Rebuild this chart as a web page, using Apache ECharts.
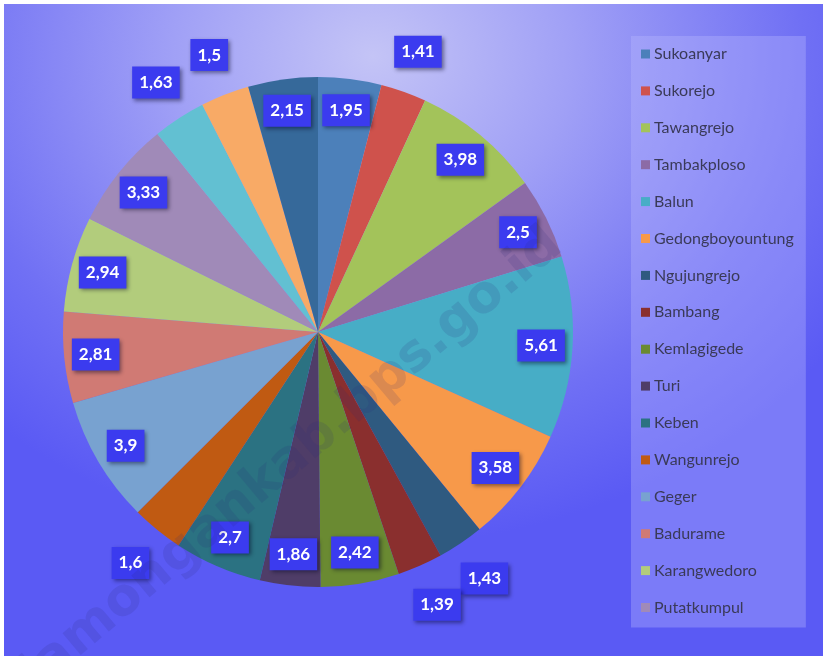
<!DOCTYPE html>
<html>
<head>
<meta charset="utf-8">
<script src="https://cdn.jsdelivr.net/npm/echarts@6/dist/echarts.min.js"></script>
<style>
  html, body { margin: 0; padding: 0; width: 823px; height: 656px; overflow: hidden; background: #fff; }
  #bg {
    position: absolute; left: 4px; top: 4px; width: 819px; height: 652px;
    background:
      radial-gradient(ellipse 70% 75% at 45% 8%, rgba(196,196,246,1) 0%, rgba(160,160,246,1) 35%, rgba(112,112,244,1) 75%, rgba(90,90,244,1) 100%);
  }
  #chart { position: absolute; left: 0; top: 0; width: 823px; height: 656px; }
</style>
</head>
<body>
<div id="bg"></div>
<div id="chart"></div>
<script>
const categories = ['Sukoanyar', 'Sukorejo', 'Tawangrejo', 'Tambakploso', 'Balun', 'Gedongboyountung',
  'Ngujungrejo', 'Bambang', 'Kemlagigede', 'Turi', 'Keben', 'Wangunrejo', 'Geger', 'Badurame',
  'Karangwedoro', 'Putatkumpul', 'Kemlagilor', 'Pomahanjanggan', 'Putatbangah'];
const values = [1.95, 1.41, 3.98, 2.5, 5.61, 3.58, 1.43, 1.39, 2.42, 1.86, 2.7, 1.6, 3.9, 2.81, 2.94, 3.33, 1.63, 1.5, 2.15];
const legendNames = categories.slice(0, 16);

const palette = ['#4c80ba', '#cf524c', '#a3c35a', '#8c6ba6', '#47adc6', '#f7994a',
  '#2f5a80', '#8a2f2e', '#6a8a32', '#4f3d68', '#2b7282', '#c05a12',
  '#78a2d0', '#d07a74', '#b2cc7c', '#a08ab8', '#62c0d2', '#f8aa66', '#36699a'];

const chart = echarts.init(document.getElementById('chart'), null, { renderer: 'canvas' });

const center = [318, 332];
const R = 255;
const fmt = v => String(v).replace('.', ',');
const smallLimit = 1.7;

const labelStyle = {
  position: 'inside',
  formatter: p => fmt(p.value),
  color: '#ffffff',
  fontFamily: 'Lato, "Open Sans", sans-serif',
  fontWeight: 'bold',
  fontSize: 17,
  backgroundColor: '#3b3bef',
  padding: [8, 7, 7, 7],
  shadowColor: 'rgba(0,0,30,0.45)',
  shadowBlur: 4,
  shadowOffsetX: 2,
  shadowOffsetY: 2
};

function ringData(showFn) {
  return categories.map((c, i) => ({
    name: c,
    value: values[i],
    label: { show: showFn(values[i]) }
  }));
}

const transparentRing = {
  type: 'pie',
  center: center,
  startAngle: 90,
  clockwise: true,
  silent: true,
  legendHoverLink: false,
  avoidLabelOverlap: false,
  minShowLabelAngle: 0,
  labelLayout: { hideOverlap: false },
  itemStyle: { color: 'rgba(0,0,0,0)', borderWidth: 0 },
  labelLine: { show: false },
  emphasis: { disabled: true },
  animation: false,
  z: 5
};

chart.setOption({
  animation: false,
  color: palette,
  legend: {
    data: legendNames,
    orient: 'vertical',
    left: 631,
    top: 36,
    padding: [10, 12, 12, 10],
    backgroundColor: 'rgba(185,185,255,0.35)',
    itemWidth: 9,
    itemHeight: 9,
    itemGap: 20.9,
    icon: 'rect',
    selectedMode: false,
    textStyle: {
      fontFamily: 'Lato, "Open Sans", sans-serif',
      fontSize: 16,
      color: '#3a3a58',
      padding: [0, 0, 0, -1]
    }
  },
  graphic: [{
    type: 'text',
    x: 292,
    y: 460,
    rotation: 40 * Math.PI / 180,
    z: 100,
    silent: true,
    style: {
      text: 'lamongankab.bps.go.id',
      fontSize: 52,
      fontWeight: 'bold',
      fontFamily: '"DejaVu Sans", sans-serif',
      fill: 'rgba(40,40,120,0.14)',
      align: 'center',
      verticalAlign: 'middle'
    }
  }],
  series: [
    {
      type: 'pie',
      center: center,
      radius: R,
      startAngle: 90,
      clockwise: true,
      data: categories.map((c, i) => ({ name: c, value: values[i] })),
      label: { show: false },
      labelLine: { show: false },
      itemStyle: { borderWidth: 0 },
      emphasis: { disabled: true },
      z: 2
    },
    Object.assign({}, transparentRing, {
      radius: [186, R],
      data: ringData(v => v >= smallLimit),
      label: labelStyle
    }),
    Object.assign({}, transparentRing, {
      radius: [R, 334],
      data: ringData(v => v < smallLimit),
      label: labelStyle
    })
  ]
});
</script>
</body>
</html>
